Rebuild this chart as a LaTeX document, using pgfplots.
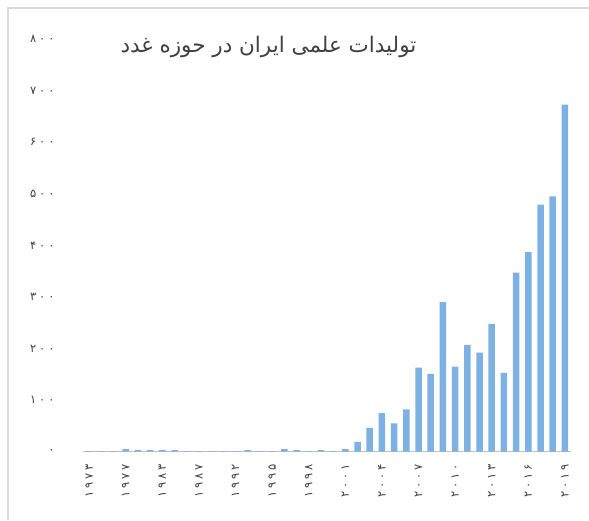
\documentclass[border=0pt]{standalone}
\usepackage{fontspec}
\usepackage{pgfplots}
\pgfplotsset{compat=1.18}
\newfontfamily\arabicfont[Script=Arabic]{DejaVu Sans}
\newfontfamily\digitfont[Script=Arabic, LetterSpace=25]{DejaVu Sans}
\TeXXeTstate=1
\definecolor{barblue}{HTML}{7DB1E3}
\definecolor{axisgray}{HTML}{BFBFBF}
\definecolor{framegray}{HTML}{D9D9D9}
\definecolor{labelgray}{HTML}{404040}
\definecolor{titlegray}{HTML}{404040}
\begin{document}
\begin{tikzpicture}[x=1pt,y=1pt]
\useasboundingbox (0,0) rectangle (589,520);
\draw[framegray, line width=1.2pt] (8,0) -- (8,512) -- (589,512);
\begin{axis}[
  at={(83pt,68.3pt)}, anchor=south west, scale only axis,
  width=488pt, height=412.7pt,
  xmin=-0.5, xmax=39.5, ymin=0, ymax=800,
  ybar, bar width=6.5pt,
  axis x line*=bottom, axis y line*=left,
  x axis line style={draw=axisgray, line width=1.5pt, -},
  y axis line style={draw=none},
  major tick length=0pt,
  xtick={0,3,...,39},
  xticklabels={۱۹۷۳,۱۹۷۷,۱۹۸۳,۱۹۸۷,۱۹۹۲,۱۹۹۵,۱۹۹۸,۲۰۰۱,۲۰۰۴,۲۰۰۷,۲۰۱۰,۲۰۱۳,۲۰۱۶,۲۰۱۹},
  ytick={0,100,...,800},
  yticklabels={۰,۱۰۰,۲۰۰,۳۰۰,۴۰۰,۵۰۰,۶۰۰,۷۰۰,۸۰۰},
  yticklabel style={font=\digitfont\fontsize{11.5}{13}\selectfont, text=labelgray, anchor=east, xshift=-25pt},
  xticklabel style={font=\digitfont\fontsize{11.5}{13}\selectfont, text=labelgray, yshift=-9pt, rotate=90, anchor=east},
  clip=false,
]
\addplot[fill=barblue, draw=none] coordinates {
(0,1)(1,1)(2,1)(3,5)(4,3)(5,3)(6,3)(7,3)(8,1)(9,1)
(10,1)(11,1)(12,1)(13,3)(14,1)(15,1)(16,5)(17,3)(18,1)(19,3)
(20,1)(21,5)(22,19)(23,46)(24,75)(25,55)(26,82)(27,163)(28,151)(29,290)
(30,165)(31,207)(32,192)(33,248)(34,153)(35,347)(36,387)(37,479)(38,495)(39,673)
};
\end{axis}
\node[text=titlegray, font=\arabicfont\fontsize{21.5}{25}\selectfont] at (268.5,473) {\beginR تولیدات علمی ایران در حوزه غدد\endR};
\end{tikzpicture}
\end{document}
